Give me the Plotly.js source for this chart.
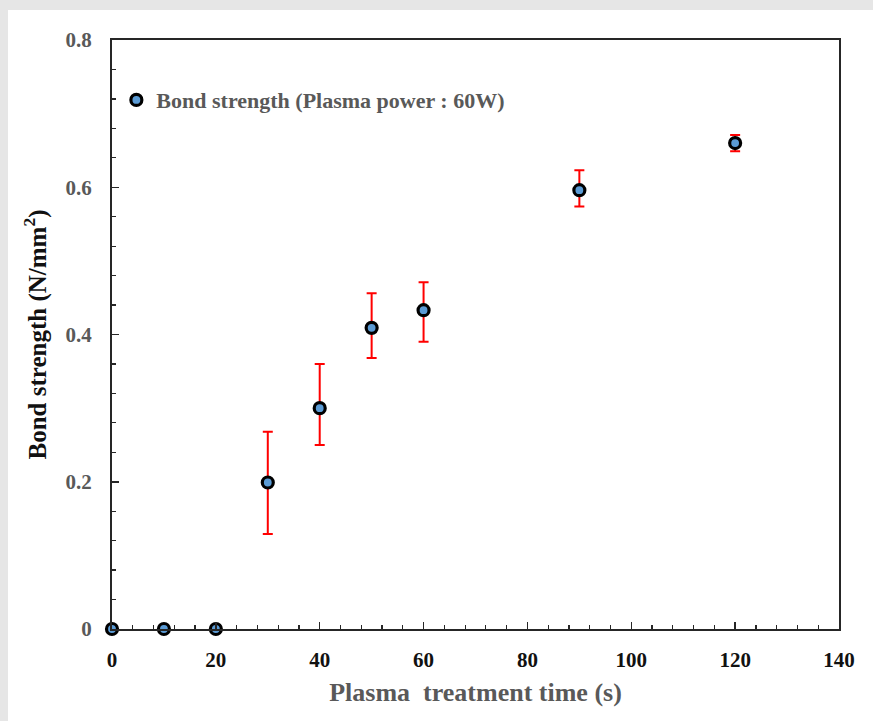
<!DOCTYPE html>
<html>
<head>
<meta charset="utf-8">
<script src="https://cdn.plot.ly/plotly-3.0.1.min.js"></script>
<style>
html,body{margin:0;padding:0;background:#e6e6e6;width:873px;height:721px;overflow:hidden;}
#chart{position:absolute;left:8px;top:10px;width:865px;height:711px;background:#fff;}
</style>
</head>
<body>
<div id="chart"></div>
<script>
const treatmentTime = [0, 10, 20, 30, 40, 50, 60, 90, 120];
const bondStrength = [0, 0, 0, 0.199, 0.300, 0.409, 0.433, 0.596, 0.660];
const errPlus = [0, 0, 0, 0.069, 0.060, 0.047, 0.038, 0.027, 0.011];
const errMinus = [0, 0, 0, 0.070, 0.050, 0.041, 0.043, 0.022, 0.011];
const seriesName = 'Bond strength (Plasma power : 60W)';
const xTicks = [0, 20, 40, 60, 80, 100, 120, 140];
const yTicks = [0, 0.2, 0.4, 0.6, 0.8];
const yTickText = ['0', '0.2', '0.4', '0.6', '0.8'];

const font = 'Liberation Serif, Times New Roman, serif';

const trace = {
  x: treatmentTime,
  y: bondStrength,
  type: 'scatter',
  mode: 'markers',
  name: seriesName,
  cliponaxis: false,
  marker: {symbol: 'circle', size: 11, color: '#5b9bd5', line: {color: '#000', width: 3.2}},
  error_y: {type: 'data', symmetric: false, array: errPlus, arrayminus: errMinus,
            color: '#ff0000', thickness: 2, width: 5}
};

const axisCommon = {
  showline: true, linecolor: '#262626', linewidth: 2, mirror: true,
  showgrid: false, zeroline: false,
  ticks: 'inside', ticklen: 7, tickwidth: 1.5, tickcolor: '#262626'
};

const layout = {
  width: 865, height: 711,
  paper_bgcolor: '#ffffff', plot_bgcolor: '#ffffff',
  margin: {l: 104, r: 34, t: 30, b: 92},
  showlegend: true,
  legend: {x: 0.006, y: 0.898, xanchor: 'left', yanchor: 'middle', bgcolor: 'rgba(0,0,0,0)',
           font: {family: font, size: 22, color: '#595959', weight: 'bold'}, itemwidth: 30},
  xaxis: Object.assign({}, axisCommon, {
    range: [0, 140], tickvals: xTicks, ticktext: xTicks.map(String),
    minor: {dtick: 4, tick0: 0, ticks: 'inside', ticklen: 4, tickwidth: 1.2, tickcolor: '#262626', showgrid: false},
    tickfont: {family: font, size: 21, color: '#111', weight: 'bold'},
    ticklabelstandoff: 11,
    title: {text: 'Plasma&nbsp;&nbsp;treatment time (s)', standoff: 12,
            font: {family: font, size: 26, color: '#595959', weight: 'bold'}}
  }),
  yaxis: Object.assign({}, axisCommon, {
    range: [0, 0.8], tickvals: yTicks, ticktext: yTickText,
    minor: {dtick: 0.04, tick0: 0, ticks: 'inside', ticklen: 4, tickwidth: 1.2, tickcolor: '#262626', showgrid: false},
    tickfont: {family: font, size: 21, color: '#595959', weight: 'bold'},
    ticklabelstandoff: 14,
    title: {text: 'Bond strength (N/mm<sup>2</sup>)', standoff: 12,
            font: {family: font, size: 25, color: '#111', weight: 'bold'}}
  })
};

Plotly.newPlot('chart', [trace], layout, {displayModeBar: false, staticPlot: true});
</script>
</body>
</html>
